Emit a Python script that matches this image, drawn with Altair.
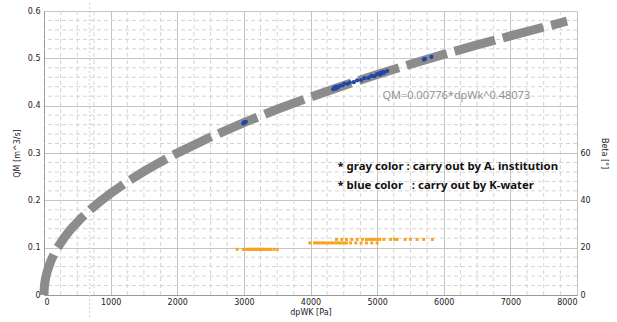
import altair as alt
import pandas as pd

# ---- data ----
# fitted curve QM = 0.00776*dpWk^0.48073
curve_dp = [0, 3, 10, 25, 50, 100, 150, 200, 300, 400, 550, 700, 850, 1000, 1250, 1500,
            1750, 2000, 2500, 3000, 3500, 4000, 4500, 5000, 5500, 6000, 6500, 7000, 7500, 7850]
curve_qm = [0.0, 0.01316, 0.02347, 0.03646, 0.05089, 0.07101, 0.08629, 0.09910, 0.12044,
            0.13828, 0.16118, 0.18096, 0.19866, 0.21480, 0.23909, 0.26105, 0.28114, 0.29977,
            0.33368, 0.36425, 0.39227, 0.41826, 0.44263, 0.46568, 0.48748, 0.50836, 0.52830,
            0.54739, 0.56586, 0.57843]

# K-water measurements (blue)
blue_dp = [2990, 3005, 3015, 3030, 4340, 4355, 4370, 4380, 4395, 4410, 4440, 4480, 4510,
           4560, 4590, 4650, 4700, 4760, 4810, 4870, 4915, 4960, 5000, 5030, 5045, 5060,
           5075, 5090, 5105, 5150, 5700, 5720, 5815]
blue_qm = [0.3625, 0.3650, 0.3640, 0.3660, 0.4345, 0.4372, 0.4392, 0.4360, 0.4398, 0.4382,
           0.4420, 0.4430, 0.4465, 0.4462, 0.4492, 0.4495, 0.4535, 0.4540, 0.4580, 0.4585,
           0.4628, 0.4622, 0.4668, 0.4680, 0.4655, 0.4700, 0.4688, 0.4712, 0.4698, 0.4735,
           0.4975, 0.4990, 0.5030]

# Beta values (orange, right axis)
orange_dp = [2900, 2990, 3030, 3060, 3080, 3100, 3120, 3140, 3160, 3180, 3200, 3220, 3240,
             3260, 3280, 3300, 3330, 3360, 3400, 3450, 3500,
             3990, 4060, 4100, 4140, 4180, 4220, 4260, 4300, 4340, 4380, 4420, 4460, 4500,
             4540, 4600, 4680, 4760, 4840, 4920, 5000,
             4390, 4470, 4540, 4620, 4700, 4780, 4840, 4880, 4920, 4960, 5000, 5040, 5100,
             5200, 5260, 5300, 5420, 5500, 5600, 5700, 5830]
orange_beta = [19.3] * 21 + [22.0] * 20 + [23.5] * 21

x_ticks = [0, 1000, 2000, 3000, 4000, 5000, 6000, 7000, 8000]
y_ticks = [0, 0.1, 0.2, 0.3, 0.4, 0.5, 0.6]
beta_ticks = [0, 20, 40, 60]
x_minor = [v for v in range(250, 8000, 250) if v % 1000 != 0]
y_minor = [round(i * 0.02, 2) for i in range(1, 30) if i % 5 != 0]

fit_label = "QM=0.00776*dpWk^0.48073"
note1 = "* gray color : carry out by A. institution"
note2 = "* blue color\u00a0\u00a0\u00a0: carry out by K-water"

W, H = 533, 284
xs = alt.Scale(domain=[0, 8000], nice=False, zero=False)
ys = alt.Scale(domain=[0, 0.6], nice=False, zero=False)
bs = alt.Scale(domain=[0, 120], nice=False, zero=False)

AX = dict(labelFont="DejaVu Sans", labelFontSize=8, labelColor="#222222",
          titleFont="DejaVu Sans", titleFontSize=8, titleColor="#222222", titleFontWeight="normal",
          ticks=False, gridColor="#c4c4c4", gridWidth=1)

XAX = alt.Axis(title="dpWK [Pa]", values=x_ticks, format="d", labelPadding=3, titlePadding=2,
               domainColor="#999999", **AX)
YAX = alt.Axis(title="QM [m^3/s]", values=y_ticks, format="~g", labelPadding=4, titlePadding=6,
               domainColor="#999999", **AX)
BAX = alt.Axis(orient="right", title="Beta [°]", values=beta_ticks, grid=False, domain=False,
               labelPadding=3, titlePadding=9, **AX)


def X(f):
    return alt.X(f, scale=xs, axis=XAX)


def Y(f):
    return alt.Y(f, scale=ys, axis=YAX)


vgrid = alt.Chart(pd.DataFrame({"x": x_minor})).mark_rule(
    color="#d4d4d4", strokeDash=[4, 3], strokeWidth=1
).encode(x=X("x:Q"))

hgrid = alt.Chart(pd.DataFrame({"y": y_minor})).mark_rule(
    color="#d4d4d4", strokeDash=[4, 3], strokeWidth=1
).encode(y=Y("y:Q"))

dotted = alt.Chart(pd.DataFrame({"x": [685]})).mark_rule(
    color="#d0d0d0", strokeDash=[2, 2], strokeWidth=1
).encode(x=X("x:Q"), y=alt.value(-8), y2=alt.value(306))

curve = alt.Chart(pd.DataFrame({"x": curve_dp, "y": curve_qm})).mark_line(
    color="#8c8c8c", strokeWidth=9, strokeDash=[42, 8], strokeCap="butt"
).encode(x=X("x:Q"), y=Y("y:Q"), order=alt.Order("x:Q"))

blue = alt.Chart(pd.DataFrame({"x": blue_dp, "y": blue_qm})).mark_circle(
    color="#2446a8", size=18, opacity=1
).encode(x=X("x:Q"), y=Y("y:Q"))

fit_text = alt.Chart(pd.DataFrame({"x": [5080], "y": [0.421], "t": [fit_label]})).mark_text(
    align="left", baseline="middle", font="Open Sans", fontSize=11, color="#8c8c8c"
).encode(x=X("x:Q"), y=Y("y:Q"), text="t:N")

notes = alt.Chart(pd.DataFrame({"x": [4405, 4405], "y": [0.2696, 0.2309], "t": [note1, note2]})).mark_text(
    align="left", baseline="middle", font="Liberation Sans Narrow, Noto Sans", fontSize=11.4,
    fontWeight="bold", color="#111111"
).encode(x=X("x:Q"), y=Y("y:Q"), text="t:N")

left = alt.layer(vgrid, hgrid, dotted, curve, blue, fit_text, notes)

orange = alt.Chart(pd.DataFrame({"x": orange_dp, "beta": orange_beta})).mark_square(
    color="#f6a31e", size=9, opacity=1
).encode(x=X("x:Q"), y=alt.Y("beta:Q", scale=bs, axis=BAX))

chart = alt.layer(left, orange).resolve_scale(y="independent").properties(
    width=W, height=H,
    autosize=alt.AutoSizeParams(type="none"),
    padding={"left": 44, "top": 11, "right": 40, "bottom": 27},
).configure_view(stroke=None).configure(background="white")

chart.save("out.html", embed_options={"renderer": "svg", "actions": False})
